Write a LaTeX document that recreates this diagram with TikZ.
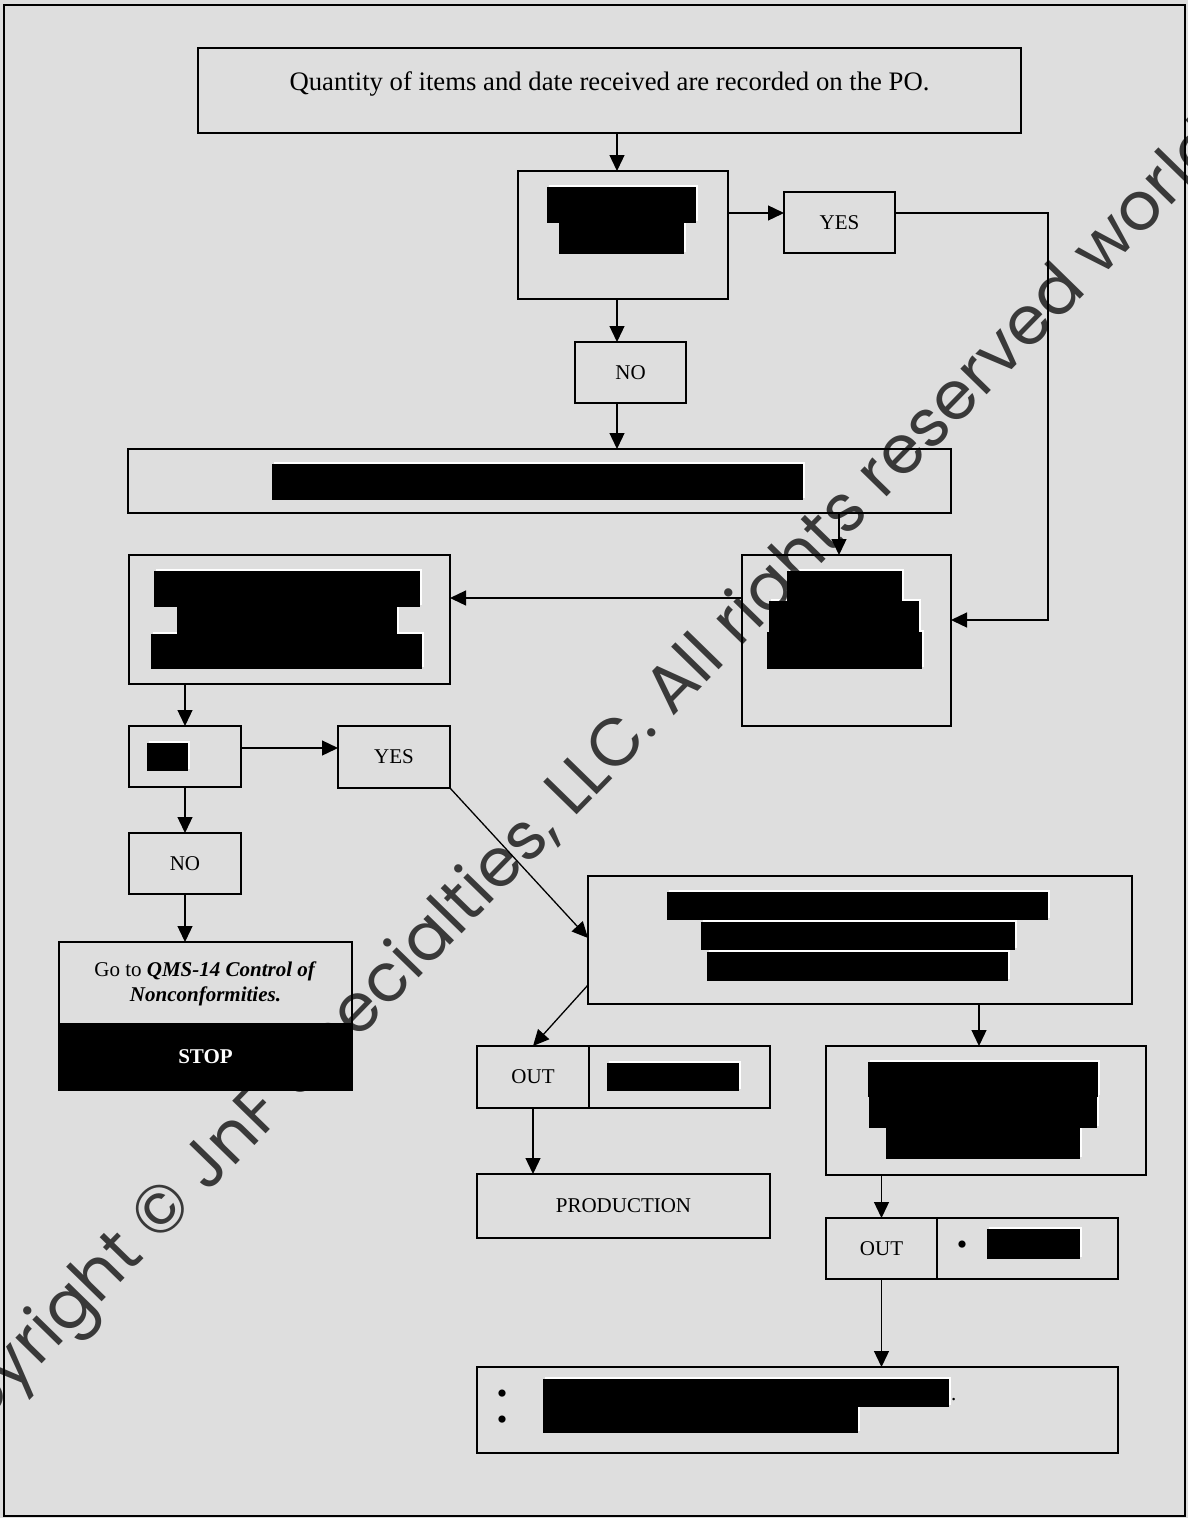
\documentclass[tikz,border=0pt]{standalone}
\usepackage{fontspec}
\setmainfont{Liberation Serif}
\newfontfamily\wmfont{Poppins}
\usetikzlibrary{arrows.meta}
\definecolor{bggray}{RGB}{222,222,222}
\newcommand{\lblfont}{\fontsize{21}{25}\selectfont}
\newcommand{\qtyfont}{\fontsize{26.7}{30}\selectfont}
\newcommand{\bulfont}{\fontsize{30}{30}\selectfont}
\newcommand{\whiteedge}[4]{\fill[white] ({#1+2},{#2-2}) rectangle ({#3+2},{#4-2});}
\newcommand{\blackbar}[4]{\fill[black] (#1,#2) rectangle (#3,#4);}
\begin{document}
\begin{tikzpicture}[x=1pt,y=-1pt,
  box/.style={draw, line width=1.8pt, inner sep=0pt, outer sep=0pt, font=\lblfont},
  arr/.style={draw, line width=1.3pt, -{Triangle[length=16pt,width=15pt]}},
  bul/.style={font=\bulfont, anchor=base, inner sep=0pt}]
\useasboundingbox (0,0) rectangle (1188,1518);
\fill[bggray] (0,0) rectangle (1188,1518);
\draw[line width=2.6pt] (4,5) rectangle (1185,1516);

% boxes
\node[box, minimum width=823pt, minimum height=85pt] (top) at (609.5,90.5) {};
\node[font=\qtyfont, anchor=base, inner sep=0pt] (toptext) at (609.5,90) {Quantity of items and date received are recorded on the PO.};
\node[box, minimum width=210pt, minimum height=128pt] (d1) at (623,235) {};
\node[box, minimum width=111pt, minimum height=61pt] (yes1) at (839.5,222.5) {YES};
\node[box, minimum width=111pt, minimum height=61pt] (no1) at (630.5,372.5) {NO};
\node[box, minimum width=823pt, minimum height=64pt] (wide) at (539.5,481) {};
\node[box, minimum width=209pt, minimum height=171pt] (r1) at (846.5,640.5) {};
\node[box, minimum width=321pt, minimum height=129pt] (l1) at (289.5,619.5) {};
\node[box, minimum width=112pt, minimum height=61pt] (s1) at (185,756.5) {};
\node[box, minimum width=112pt, minimum height=62pt] (yes2) at (394,757) {YES};
\node[box, minimum width=112pt, minimum height=61pt] (no2) at (185,863.5) {NO};
\node[box, minimum width=293pt, minimum height=84pt, align=center] (go) at (205.5,984)
  {Go to \textbf{\textit{QMS-14 Control of}}\\\textbf{\textit{Nonconformities.}}};
\node[box, fill=black, text=white, minimum width=293pt, minimum height=66pt, font=\lblfont\bfseries] (stop) at (205.5,1057) {STOP};
\node[box, minimum width=544pt, minimum height=128pt] (big) at (860,940) {};
\node[box, minimum width=112pt, minimum height=62pt] (out1a) at (533,1077) {OUT};
\node[box, minimum width=181pt, minimum height=62pt] (out1b) at (679.5,1077) {};
\node[box, minimum width=293pt, minimum height=64pt] (prod) at (623.5,1206) {PRODUCTION};
\node[box, minimum width=320pt, minimum height=129pt] (r2) at (986,1110.5) {};
\node[box, minimum width=111pt, minimum height=61pt] (out2a) at (881.5,1248.5) {OUT};
\node[box, minimum width=181pt, minimum height=61pt] (out2b) at (1027.5,1248.5) {};
\node[box, minimum width=641pt, minimum height=86pt] (final) at (797.5,1410) {};
% redraw the top edge of the go box over the stop box
\draw[line width=1.8pt] (go.south west) -- (go.south east);

% bullets and stray text
\node[bul] (b0) at (962,1254.5) {•};
\node[bul] (b1) at (502,1403.5) {•};
\node[bul] (b2) at (502,1429.5) {•};
\node[font=\lblfont, anchor=base west, inner sep=0pt] (dot) at (951,1400) {.};

% redactions
\whiteedge{547}{187}{696}{223}\whiteedge{559}{223}{684}{254}
\blackbar{547}{187}{696}{223}\blackbar{559}{223}{684}{254}
\whiteedge{272}{464}{803}{500}\blackbar{272}{464}{803}{500}
\whiteedge{154}{571}{420}{607}\whiteedge{177}{607}{397}{634}\whiteedge{151}{634}{422}{669}
\blackbar{154}{571}{420}{607}\blackbar{177}{607}{397}{634}\blackbar{151}{634}{422}{669}
\whiteedge{787}{571}{902}{601}\whiteedge{769}{601}{919}{632}\whiteedge{767}{632}{922}{669}
\blackbar{787}{571}{902}{601}\blackbar{769}{601}{919}{632}\blackbar{767}{632}{922}{669}
\whiteedge{147}{743}{188}{771}\blackbar{147}{743}{188}{771}
\whiteedge{667}{892}{1048}{920}\whiteedge{701}{922}{1015}{950}\whiteedge{707}{952}{1008}{981}
\blackbar{667}{892}{1048}{920}\blackbar{701}{922}{1015}{950}\blackbar{707}{952}{1008}{981}
\whiteedge{607}{1063}{739}{1091}\blackbar{607}{1063}{739}{1091}
\whiteedge{868}{1062}{1098}{1097}\whiteedge{869}{1097}{1097}{1128}\whiteedge{886}{1128}{1080}{1159}
\blackbar{868}{1062}{1098}{1097}\blackbar{869}{1097}{1097}{1128}\blackbar{886}{1128}{1080}{1159}
\whiteedge{987}{1229}{1080}{1259}\blackbar{987}{1229}{1080}{1259}
\whiteedge{543}{1379}{949}{1407}\whiteedge{543}{1407}{858}{1433}
\blackbar{543}{1379}{949}{1407}\blackbar{543}{1407}{858}{1433}

% connectors
\draw[arr] (top.south -| 617,0) -- (d1.north -| 617,0);
\draw[arr] (d1.east |- 0,213) -- (yes1.west |- 0,213);
\draw[arr] (yes1.east |- 0,213) -- (1048,213) -- (1048,620) -- (r1.east |- 0,620);
\draw[arr] (d1.south -| 617,0) -- (no1.north -| 617,0);
\draw[arr] (no1.south -| 617,0) -- (wide.north -| 617,0);
\draw[arr] (wide.south -| 839,0) -- (r1.north -| 839,0);
\draw[arr] (r1.west |- 0,598) -- (l1.east |- 0,598);
\draw[arr] (l1.south -| s1.north) -- (s1.north);
\draw[arr] (s1.east |- 0,748) -- (yes2.west |- 0,748);
\draw[arr] (s1.south) -- (no2.north);
\draw[arr] (no2.south) -- (go.north -| no2.south);
\draw[arr] (yes2.south east) -- (big.west |- 0,938);
\draw[arr] (big.west |- 0,985) -- (out1a.north);
\draw[arr] (out1a.south) -- (prod.north -| out1a.south);
\draw[arr] (big.south -| 979,0) -- (r2.north -| 979,0);
\draw[arr] (r2.south -| out2a.north) -- (out2a.north);
\draw[arr] (out2a.south) -- (final.north -| out2a.south);

% watermark
\node[font=\wmfont\fontsize{67}{80}\selectfont, rotate=45.7, anchor=base, text=black, text opacity=0.74, inner sep=0pt] (wm) at (627,764) {Copyright © JnF Specialties, LLC. All rights reserved worldwide};
\end{tikzpicture}
\end{document}
